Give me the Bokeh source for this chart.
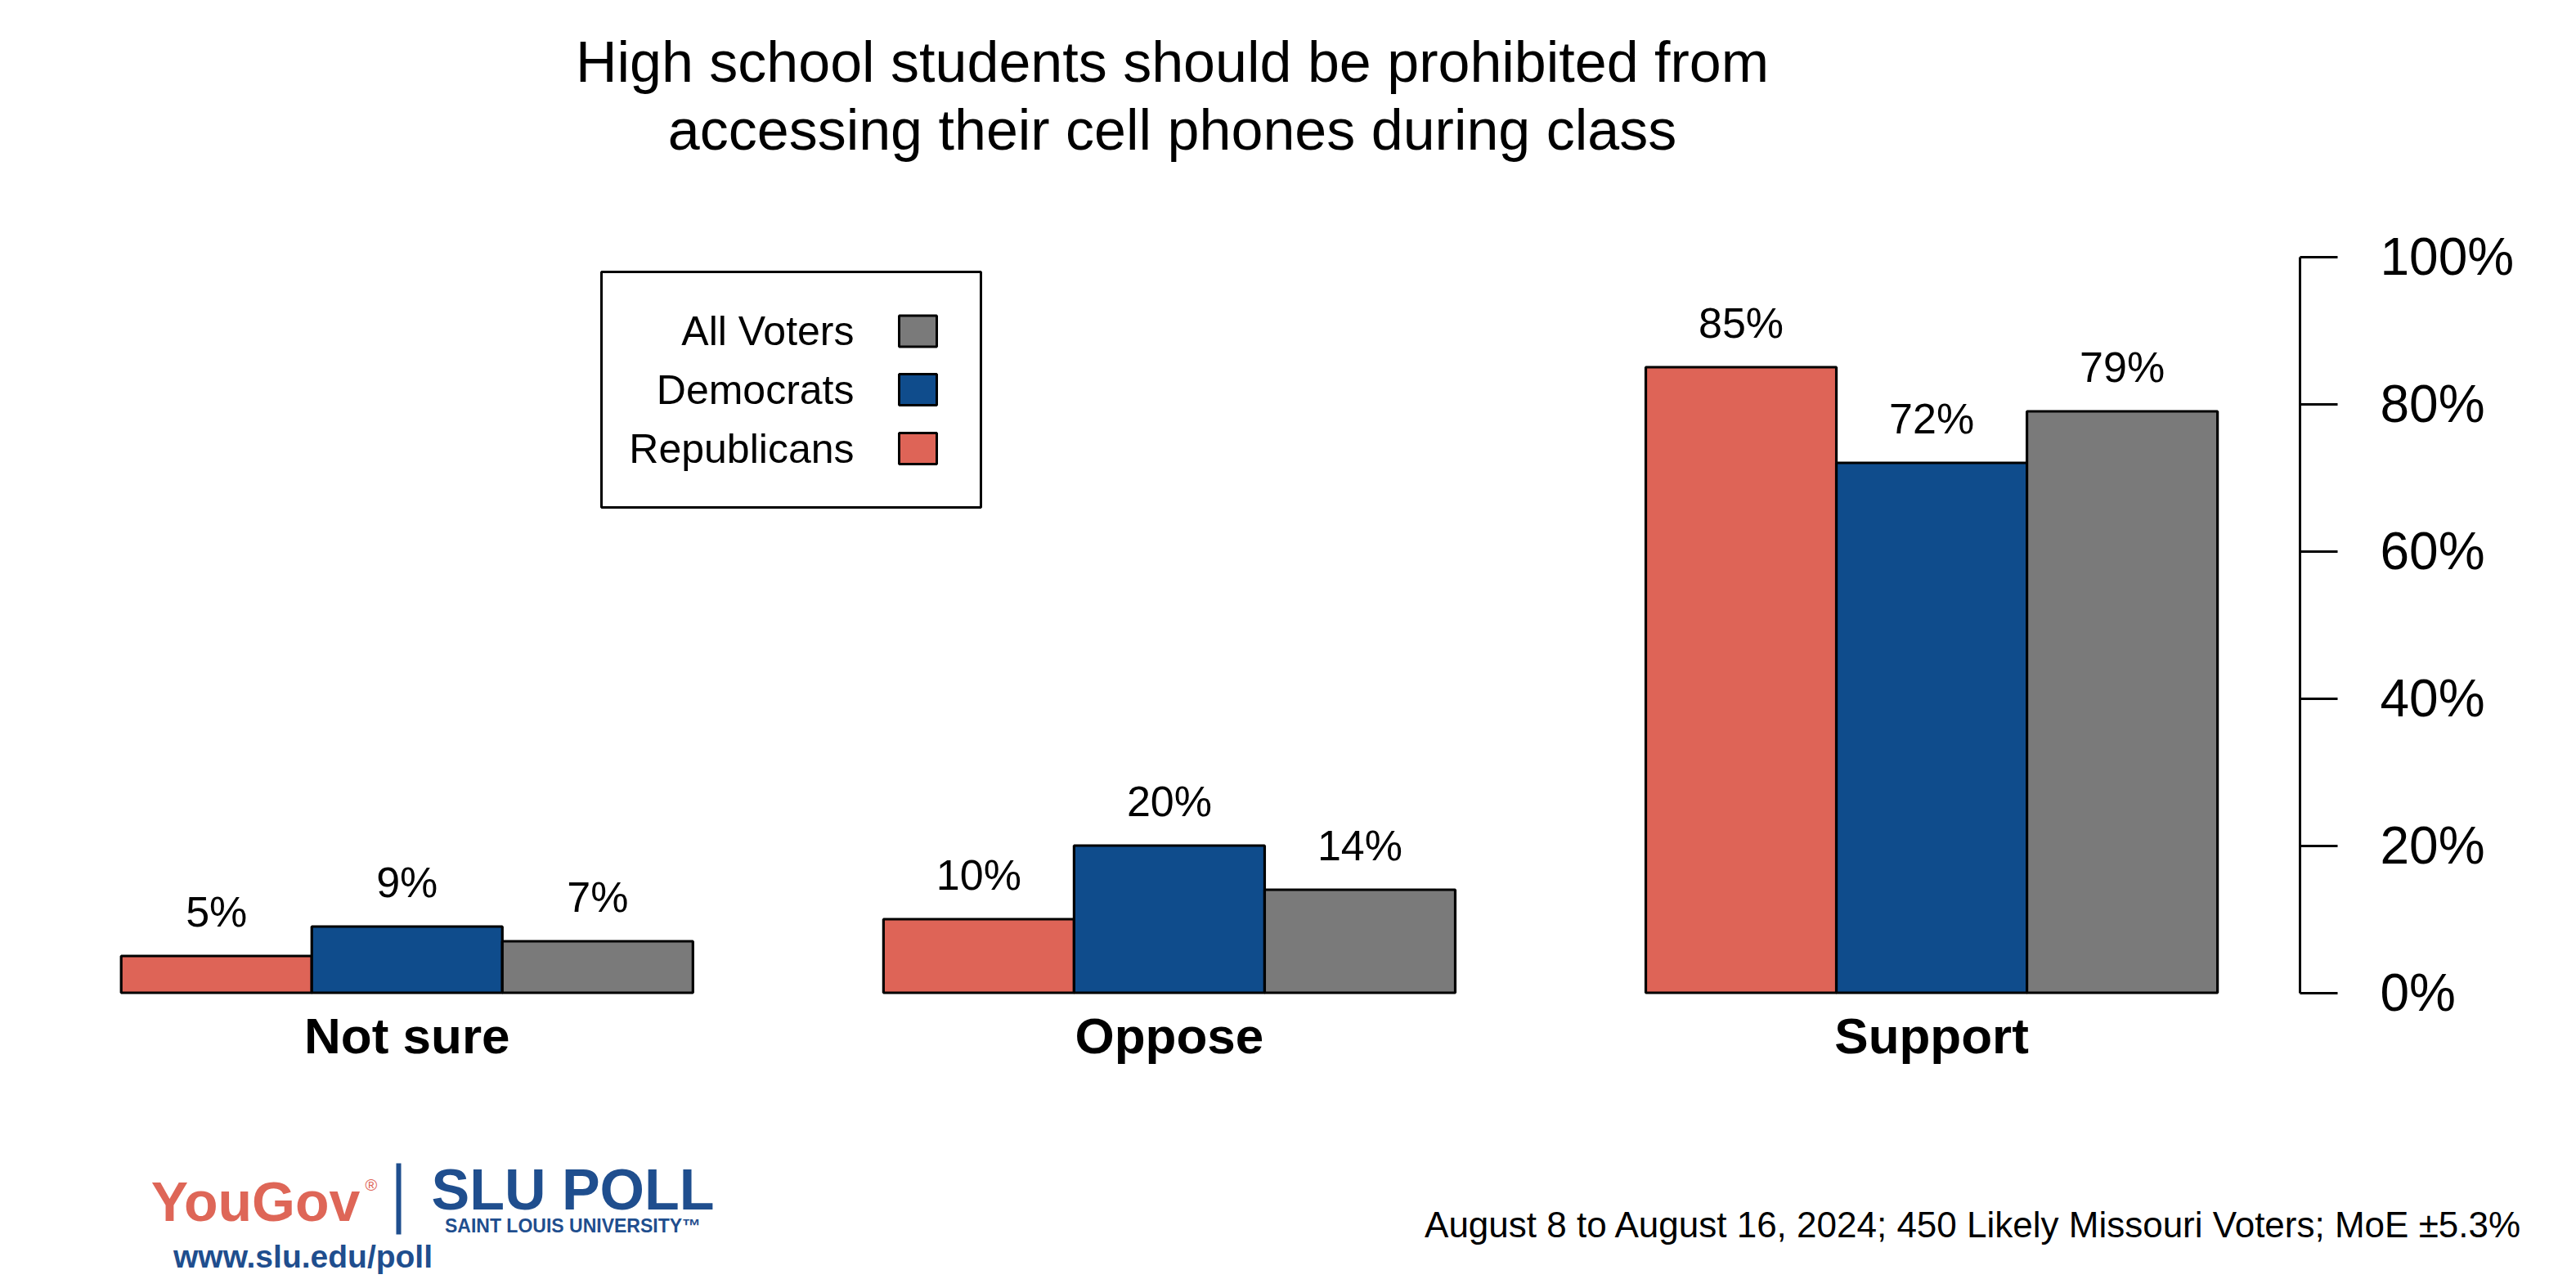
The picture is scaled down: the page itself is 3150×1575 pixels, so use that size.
from bokeh.plotting import figure
from bokeh.models import Range1d, LinearAxis, FixedTicker, PrintfTickFormatter, Label, BoxAnnotation
from bokeh.layouts import column
from bokeh.core.properties import value
from bokeh.embed import file_html
from bokeh.resources import INLINE

# ---- data ----
categories = ["Not sure", "Oppose", "Support"]
series_names = ["Republicans", "Democrats", "All Voters"]
republicans = [5, 10, 85]
democrats = [9, 20, 72]
all_voters = [7, 14, 79]
y_ticks = [0, 20, 40, 60, 80, 100]
title_lines = ["High school students should be prohibited from",
               "accessing their cell phones during class"]
footer = "August 8 to August 16, 2024; 450 Likely Missouri Voters; MoE \u00b15.3%"

colors = {"Republicans": "#DE6457", "Democrats": "#0F4C8C", "All Voters": "#7A7A7A"}
series_vals = {"Republicans": republicans, "Democrats": democrats, "All Voters": all_voters}

FONT = "Liberation Sans"

# layout helpers: reference-pixel -> data coordinates (layout only)
X0, BW = 147.7, 233.04
Y0, YS = 1213.5, 9.0
def ux(px):
    return 1 + (px - X0) / BW
def vy(py):
    return (Y0 - py) / YS
def mid(baseline, size):
    # centre of capitals for a given baseline (text drawn with "middle" baseline)
    return baseline - 0.35 * size

W = 3150
H_MAIN, H_FOOT = 1400, 175
AXIS_X = 2812

p = figure(width=W, height=H_MAIN, output_backend="svg", toolbar_location=None,
           x_range=Range1d(ux(0), ux(AXIS_X)), y_range=Range1d(vy(H_MAIN), vy(0)),
           x_axis_location=None, y_axis_location=None,
           min_border_left=0, min_border_right=W - AXIS_X, min_border_top=0, min_border_bottom=0)
p.frame_align = False
p.outline_line_color = None
p.grid.visible = False
p.background_fill_color = "white"
p.border_fill_color = "white"

# right axis
ax = LinearAxis(bounds=(0, 100), ticker=FixedTicker(ticks=y_ticks),
                formatter=PrintfTickFormatter(format="%d%%"))
ax.axis_line_width = 3
ax.axis_line_color = "black"
ax.major_tick_line_width = 3
ax.major_tick_out = 46
ax.major_tick_in = 0
ax.minor_tick_line_color = None
ax.major_label_standoff = 52
ax.major_label_text_font = FONT
ax.major_label_text_font_size = "64px"
ax.major_label_text_color = "black"
p.add_layout(ax, "right")

# bars
for si, name in enumerate(series_names):
    vals = series_vals[name]
    xs = [1 + 4 * gi + si + 0.5 for gi in range(len(categories))]
    p.vbar(x=xs, top=vals, bottom=0, width=1, fill_color=colors[name],
           line_color="black", line_width=3.2)
    p.text(x=xs, y=[v + 6 for v in vals], text=[f"{v}%" for v in vals],
           text_align="center", text_baseline="middle",
           text_font=value(FONT), text_font_size=value("52px"), text_color="black")

# category labels
gx = [1 + 4 * gi + 1.5 for gi in range(len(categories))]
p.text(x=gx, y=[vy(mid(1288, 62))] * len(categories), text=categories,
       text_align="center", text_baseline="middle",
       text_font=value(FONT), text_font_style="bold",
       text_font_size=value("62px"), text_color="black")

# title
for line, by in zip(title_lines, [100, 183]):
    p.add_layout(Label(x=ux(1433), y=vy(mid(by, 70)), text=line, text_align="center",
                       text_baseline="middle", text_font=FONT,
                       text_font_size="70px", text_color="black"))

# legend
p.add_layout(BoxAnnotation(left=ux(735), right=ux(1199), top=vy(332), bottom=vy(620),
                           fill_color="white", fill_alpha=1, line_color="black",
                           line_alpha=1, line_width=3))
for name, cy in zip(["All Voters", "Democrats", "Republicans"], [404.5, 476, 548]):
    p.add_layout(BoxAnnotation(left=ux(1099), right=ux(1145), top=vy(cy - 19), bottom=vy(cy + 19),
                               fill_color=colors[name], fill_alpha=1, line_color="black",
                               line_alpha=1, line_width=3))
    p.add_layout(Label(x=ux(1044), y=vy(cy), text=name, text_align="right",
                       text_baseline="middle", text_font=FONT, text_font_size="50px",
                       text_color="black"))

# ---- bottom strip: footer and logos (pixel coordinates) ----
f = figure(width=W, height=H_FOOT, output_backend="svg", toolbar_location=None,
           x_range=Range1d(0, W), y_range=Range1d(H_MAIN + H_FOOT, H_MAIN),
           x_axis_location=None, y_axis_location=None,
           min_border_left=0, min_border_right=0, min_border_top=0, min_border_bottom=0)
f.frame_align = False
f.outline_line_color = None
f.grid.visible = False
f.background_fill_color = "white"
f.border_fill_color = "white"

f.add_layout(Label(x=3084, y=mid(1512, 44), text=footer, text_align="right",
                   text_baseline="middle", text_font=FONT, text_font_size="44px",
                   text_color="black"))

SLU_BLUE = "#1F4E8E"
f.add_layout(Label(x=700, y=mid(1479, 70), text="SLU POLL", text_align="center",
                   text_baseline="middle", text_font=FONT, text_font_style="bold",
                   text_font_size="70px", text_color=SLU_BLUE))
f.add_layout(Label(x=700, y=mid(1507, 23), text="SAINT LOUIS UNIVERSITY\u2122", text_align="center",
                   text_baseline="middle", text_font=FONT, text_font_style="bold",
                   text_font_size="23px", text_color=SLU_BLUE))
f.add_layout(BoxAnnotation(left=484, right=490, top=1422, bottom=1509,
                           fill_color=SLU_BLUE, fill_alpha=1, line_color=None))
f.add_layout(Label(x=312, y=mid(1492, 68), text="YouGov", text_align="center",
                   text_baseline="middle", text_font=FONT, text_font_style="bold",
                   text_font_size="68px", text_color="#DE6657"))
f.add_layout(Label(x=446, y=1448, text="\u00ae", text_align="left",
                   text_baseline="middle", text_font=FONT,
                   text_font_size="20px", text_color="#DE6657"))
f.add_layout(Label(x=370, y=mid(1550, 39), text="www.slu.edu/poll", text_align="center",
                   text_baseline="middle", text_font=FONT, text_font_style="bold",
                   text_font_size="39px", text_color=SLU_BLUE))

layout = column(p, f, spacing=0)
open("out.html", "w").write(file_html(layout, INLINE))
